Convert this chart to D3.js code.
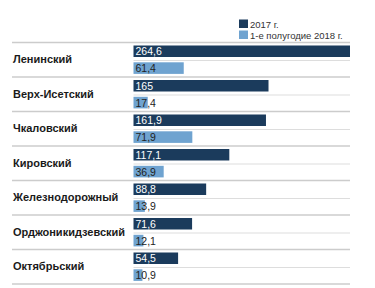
<!DOCTYPE html>
<html lang="ru"><head>
<meta charset="utf-8">
<title>Районы</title>
<script src="https://cdn.jsdelivr.net/npm/d3@7"></script>
<style>
body { margin: 0; background: #fff; }
</style>
</head>
<body>
<script type="text/javascript">

var width = 375;
var height = 288;

var districts = ["Ленинский", "Верх-Исетский", "Чкаловский", "Кировский",
                 "Железнодорожный", "Орджоникидзевский", "Октябрьский"];
var values2017 = [264.6, 165, 161.9, 117.1, 88.8, 71.6, 54.5];
var values2018 = [61.4, 17.4, 71.9, 36.9, 13.9, 12.1, 10.9];
var seriesNames = ["2017 г.", "1-е полугодие 2018 г."];
var colors = ["#1b3b5c", "#6fa3d0"];

var svg = d3.select("body").append("svg")
            .attr("width", width)
            .attr("height", height);

var chartTop = 42.5, groupH = 34.5;
var left = 12, barX = 133.5, right = 350;

var y = d3.scaleBand()
    .domain(districts)
    .range([chartTop, chartTop + groupH * districts.length]);

var x = d3.scaleLinear()
    .domain([0, 264.6])
    .range([barX, right]);

var fmt = (v) => String(v).replace(".", ",");

// legend
var legend = svg.append("g");
seriesNames.forEach((name, i) => {
    legend.append("rect")
        .attr("x", 239).attr("y", 19.5 + i * 11)
        .attr("width", 9).attr("height", 8.5)
        .attr("fill", colors[i]);
    legend.append("text")
        .attr("x", 250).attr("y", 27.5 + i * 11)
        .attr("font-family", "Liberation Sans, Arial, sans-serif")
        .attr("font-size", 9.5)
        .attr("fill", "#333")
        .text(name);
});

var g = svg.selectAll(".grp")
    .data(districts)
    .enter()
    .append("g")
    .attr("class", "grp")
    .attr("transform", (d) => "translate(0," + y(d) + ")");

// group top line
g.append("line")
    .attr("x1", left).attr("x2", right)
    .attr("y1", 0).attr("y2", 0)
    .attr("stroke", "#cccccc").attr("stroke-width", 1.5);

// inner divider
g.append("line")
    .attr("x1", barX).attr("x2", right)
    .attr("y1", 18).attr("y2", 18)
    .attr("stroke", "#dddddd").attr("stroke-width", 1.2);

g.append("text")
    .attr("x", left + 1)
    .attr("y", 20.8)
    .attr("font-family", "Liberation Sans, Arial, sans-serif")
    .attr("font-weight", "bold")
    .attr("font-size", 11)
    .attr("fill", "#1a1a1a")
    .text((d) => d);

g.append("rect")
    .attr("x", barX)
    .attr("y", 3)
    .attr("width", (d, i) => x(values2017[i]) - barX)
    .attr("height", 11.5)
    .attr("fill", colors[0]);

g.append("rect")
    .attr("x", barX)
    .attr("y", 19.8)
    .attr("width", (d, i) => x(values2018[i]) - barX)
    .attr("height", 11.6)
    .attr("fill", colors[1]);

g.append("text")
    .attr("x", barX + 2)
    .attr("y", 12.8)
    .attr("font-family", "Liberation Sans, Arial, sans-serif")
    .attr("font-size", 10.5)
    .attr("fill", "#fff")
    .text((d, i) => fmt(values2017[i]));

g.append("text")
    .attr("x", barX + 2)
    .attr("y", 29.6)
    .attr("font-family", "Liberation Sans, Arial, sans-serif")
    .attr("font-size", 10.5)
    .attr("fill", "#222")
    .text((d, i) => fmt(values2018[i]));

// bottom line
svg.append("line")
    .attr("x1", left).attr("x2", right)
    .attr("y1", y.range()[1]).attr("y2", y.range()[1])
    .attr("stroke", "#cccccc").attr("stroke-width", 1.5);

</script>
</body></html>
